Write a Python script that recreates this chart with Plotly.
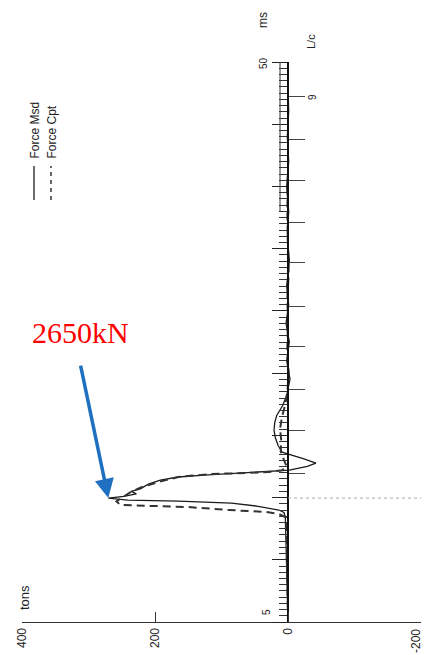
import plotly.graph_objects as go

# Pile top force record: time (ms) vs force (tons), plotted on its side
time_msd_ms = [5.0, 7.0, 9.0, 11.0, 12.5, 13.4, 13.8, 14.0, 14.3, 14.56, 14.72, 14.8,
               14.96, 15.1, 15.3, 15.5, 15.7, 16.08, 16.4, 16.65, 16.8, 16.97, 17.13,
               17.2, 17.5, 17.77, 18.1, 18.4, 18.65, 19.2, 19.8, 20.4, 21.0, 21.6,
               22.4, 23.2, 24.5, 26.0, 27.5, 29.0, 30.5, 32.0, 34.0, 36.0, 38.0,
               40.0, 42.0, 44.0, 46.0, 48.0, 50.0]
force_msd_t = [0, 1, 2, 2, 3, 4, 6, 14, 45, 85, 165, 241,
               270.2, 247, 228, 236, 222, 210, 192, 165, 127, 67, 21,
               -2, -29, -42, -24, -5, 9, 15, 19, 21, 20, 17,
               8, 2, -3, 2, -2, 3, -1, 2, -2, 1, -1,
               2, -1, 1, -1, 0, 0]

time_cpt_ms = [5.0, 8.0, 11.0, 12.8, 13.4, 13.68, 13.84, 14.0, 14.24, 14.4, 14.7,
               15.0, 15.4, 15.8, 16.25, 16.65, 16.9, 16.97, 17.05, 17.2, 17.5, 18.0,
               18.7, 19.5, 20.5, 21.5, 22.5, 23.5, 25.0, 27.0, 29.0, 31.0, 33.0,
               35.0, 38.0, 41.0, 44.0, 47.0, 50.0]
force_cpt_t = [0, 1, 1, 2, 3, 14, 33, 89, 150, 252, 258,
               250, 238, 222, 195, 165, 115, 64, 29, 9, 2, 6,
               11, 10, 12, 9, 4, 1, -1, 1, 0, 1, -1,
               0, 1, 0, 0, 1, 0]

force_ticks = [400, 200, 0, -200]
force_tick_text = ["400", "200", "0", "-200"]
time_major_ms = [5, 10, 15, 20, 25, 30, 35, 40, 45, 50]
lc_ticks_ms = [16.97, 20.35, 23.72, 27.10, 30.39, 33.85, 37.14, 40.44, 43.81, 47.19]

peak_kN = 2650
peak_t = peak_kN / 9.80665
peak_time_ms = time_msd_ms[force_msd_t.index(270.2)]

W, H = 424, 655
ML, MR, MT, MB = 22, 3, 62, 33
INK = "#1c1c1c"
FONT = "Liberation Sans"


def px(xp, yp):
    """Pixel position -> paper coordinates."""
    return (xp - ML) / (W - ML - MR), (H - MB - yp) / (H - MT - MB)


fig = go.Figure()
fig.add_trace(go.Scatter(x=force_msd_t, y=time_msd_ms, mode="lines",
                         line=dict(color=INK, width=1.3), showlegend=False,
                         hoverinfo="skip"))
fig.add_trace(go.Scatter(x=force_cpt_t, y=time_cpt_ms, mode="lines",
                         line=dict(color="#333333", width=2, dash="8px,5px"),
                         showlegend=False, hoverinfo="skip"))
# carrier for the L/c tick axis
fig.add_trace(go.Scatter(x=[0], y=[time_major_ms[0]], yaxis="y2", mode="markers",
                         marker=dict(opacity=0), showlegend=False, hoverinfo="skip"))

zero_pos = (force_ticks[0] - 0) / (force_ticks[0] - force_ticks[-1])

fig.update_layout(
    width=W, height=H,
    margin=dict(l=ML, r=MR, t=MT, b=MB),
    paper_bgcolor="white", plot_bgcolor="white",
    xaxis=dict(range=[force_ticks[0], force_ticks[-1]], showgrid=False, zeroline=False,
               showline=True, linecolor="#333", linewidth=1.3,
               ticks="inside", ticklen=10, tickwidth=1.2, tickcolor="#333",
               tickvals=force_ticks, ticktext=force_tick_text[:-1] + [""],
               tickangle=-90,
               tickfont=dict(family=FONT, size=12, color="#222")),
    yaxis=dict(range=[time_major_ms[0], time_major_ms[-1]], anchor="free",
               position=zero_pos, showgrid=False, zeroline=False,
               showline=True, linecolor="#111", linewidth=1.6,
               ticks="outside", ticklen=15, tickwidth=1.2, tickcolor="#222",
               tickvals=time_major_ms, showticklabels=False,
               minor=dict(dtick=0.5, ticks="outside", ticklen=8, tickwidth=1,
                          tickcolor="#333")),
    yaxis2=dict(range=[time_major_ms[0], time_major_ms[-1]], overlaying="y",
                anchor="free", position=zero_pos, side="right",
                showgrid=False, zeroline=False, showline=False,
                ticks="outside", ticklen=16, tickwidth=1.1, tickcolor="#444",
                tickvals=lc_ticks_ms, showticklabels=False),
)

# ladder rail beside the upper time ticks
fig.add_shape(type="line", xref="x", yref="y", x0=12, x1=12, y0=38, y1=50,
              line=dict(color="#333", width=1))
# peak time marker
fig.add_shape(type="line", xref="x", yref="y", x0=0, x1=force_ticks[-1],
              y0=peak_time_ms, y1=peak_time_ms,
              line=dict(color="#aaa", width=1, dash="dot"))

# legend drawn sideways
lx1, ly0 = px(34, 200)
_, ly1 = px(34, 166)
fig.add_shape(type="line", xref="paper", yref="paper", x0=lx1, x1=lx1, y0=ly0, y1=ly1,
              line=dict(color=INK, width=1.3))
lx2, _ = px(51, 0)
fig.add_shape(type="line", xref="paper", yref="paper", x0=lx2, x1=lx2, y0=ly0, y1=ly1,
              line=dict(color="#333", width=1.5, dash="4px,4px"))


def label(text, xp, yp, size=11, yanchor="middle"):
    ax_, ay_ = px(xp, yp)
    fig.add_annotation(text=text, xref="paper", yref="paper", x=ax_, y=ay_,
                       showarrow=False, textangle=-90, xanchor="center",
                       yanchor=yanchor, font=dict(family=FONT, size=size, color="#222"))


label("Force Msd", 34, 161, size=12, yanchor="bottom")
label("Force Cpt", 51, 161, size=12, yanchor="bottom")
label("ms", 263, 20, size=12)
label("L/c", 311, 42, size=11)
label("50", 263, 63, size=10)
label("9", 312, 97, size=10)
label("5", 266, 612, size=10)
label("tons", 24, 598, size=13)
# right-hand force label, kept just inside the page edge
label(force_tick_text[-1], 416, 627, size=12, yanchor="top")

# peak callout
tx, ty = px(80, 332)
fig.add_annotation(text=f"{peak_kN}kN", xref="paper", yref="paper", x=tx, y=ty,
                   xanchor="center", yanchor="middle",
                   showarrow=False, font=dict(family="Liberation Serif", size=30,
                                              color="#ff0000"))
fig.add_annotation(text="", x=peak_t, y=peak_time_ms, xref="x", yref="y",
                   showarrow=True, ax=-28, ay=-134, arrowhead=2, arrowsize=1.1,
                   arrowwidth=3.5, arrowcolor="#1f70c0", standoff=0)

fig.write_html("out.html")
